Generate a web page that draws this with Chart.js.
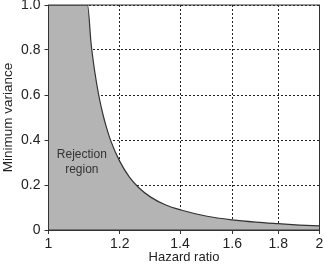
<!DOCTYPE html>
<html>
<head>
<meta charset="utf-8">
<script src="https://cdn.jsdelivr.net/npm/chart.js@4"></script>
<style>
  html, body { margin: 0; padding: 0; background: #fff; }
  #wrap { width: 324px; height: 269px; }
</style>
</head>
<body>
<div id="wrap"><canvas id="grafico" width="324" height="269"></canvas></div>
<script>
// valores
const hazardRatio = [1.0, 1.105, 1.115, 1.125, 1.137, 1.15, 1.16, 1.173, 1.2, 1.23, 1.26, 1.3, 1.35, 1.4, 1.5, 1.6, 1.7, 1.8, 1.9, 2.0];
const minVariance = [1.0, 1.0, 0.83, 0.71, 0.60, 0.51, 0.455, 0.395, 0.305, 0.235, 0.188, 0.145, 0.111, 0.090, 0.061, 0.045, 0.035, 0.028, 0.022, 0.018];
const xTicks = [1, 1.2, 1.4, 1.6, 1.8, 2];
const xTickLabels = ['1', '1.2', '1.4', '1.6', '1.8', '2'];
const yTickLabels = ['0', '0.2', '0.4', '0.6', '0.8', '1.0'];
const regionLabel = ['Rejection', 'region'];
const regionAt = { x: 1.089, y: 0.3 };

const fuente = 'Liberation Sans, Arial, Helvetica, sans-serif';

// marco alrededor del área y texto de la región
const marco = {
    id: 'marco',
    afterDraw(chart) {
        const { ctx, chartArea: a, scales } = chart;
        ctx.save();
        ctx.strokeStyle = '#333';
        ctx.lineWidth = 1;
        ctx.strokeRect(a.left, a.top, a.right - a.left, a.bottom - a.top);
        ctx.fillStyle = '#333';
        ctx.font = '12px ' + fuente;
        ctx.textAlign = 'center';
        ctx.textBaseline = 'middle';
        const cx = scales.x.getPixelForValue(regionAt.x);
        const cy = scales.y.getPixelForValue(regionAt.y);
        ctx.fillText(regionLabel[0], cx, cy - 7.5);
        ctx.fillText(regionLabel[1], cx, cy + 7.5);
        ctx.restore();
    }
};

const ctx = document.getElementById('grafico').getContext('2d');
new Chart(ctx, {
    type: 'line',
    data: {
        datasets: [{
            data: hazardRatio.map((h, i) => ({ x: h, y: minVariance[i] })),
            borderColor: '#333',
            borderWidth: 1.2,
            backgroundColor: '#b4b4b4',
            fill: 'origin',
            pointRadius: 0,
            cubicInterpolationMode: 'monotone'
        }]
    },
    options: {
        responsive: false,
        animation: false,
        layout: { padding: { top: 5, right: 4.5, left: 0, bottom: 0 } },
        plugins: { legend: { display: false }, tooltip: { enabled: false } },
        scales: {
            x: {
                type: 'logarithmic',
                min: 1,
                max: 2,
                z: 1,
                afterBuildTicks: s => { s.ticks = xTicks.map(v => ({ value: v })); },
                afterFit: s => { s.height = 39; s.paddingLeft = 0; s.paddingRight = 0; },
                ticks: {
                    color: '#222',
                    font: { family: fuente, size: 14 },
                    padding: 2,
                    maxRotation: 0,
                    autoSkip: false,
                    callback: (v, i) => xTickLabels[i]
                },
                grid: { color: '#222', lineWidth: 1, tickLength: 4, tickColor: '#333' },
                border: { color: '#333', width: 1, dash: [2, 2] },
                title: { display: true, text: 'Hazard ratio', color: '#222', font: { family: fuente, size: 13 }, padding: { top: 0, bottom: 4 } }
            },
            y: {
                min: 0,
                max: 1,
                z: 1,
                afterFit: s => { s.width = 48.5; s.paddingTop = 0; s.paddingBottom = 0; },
                ticks: {
                    stepSize: 0.2,
                    color: '#222',
                    font: { family: fuente, size: 14 },
                    padding: 4,
                    callback: (v, i) => yTickLabels[i]
                },
                grid: { color: '#222', lineWidth: 1, tickLength: 4, tickColor: '#333' },
                border: { color: '#333', width: 1, dash: [2, 2] },
                title: { display: true, text: 'Minimum variance', color: '#222', font: { family: fuente, size: 13.5 }, padding: { top: 0, bottom: 0 } }
            }
        }
    },
    plugins: [marco]
});
</script>
</body>
</html>
